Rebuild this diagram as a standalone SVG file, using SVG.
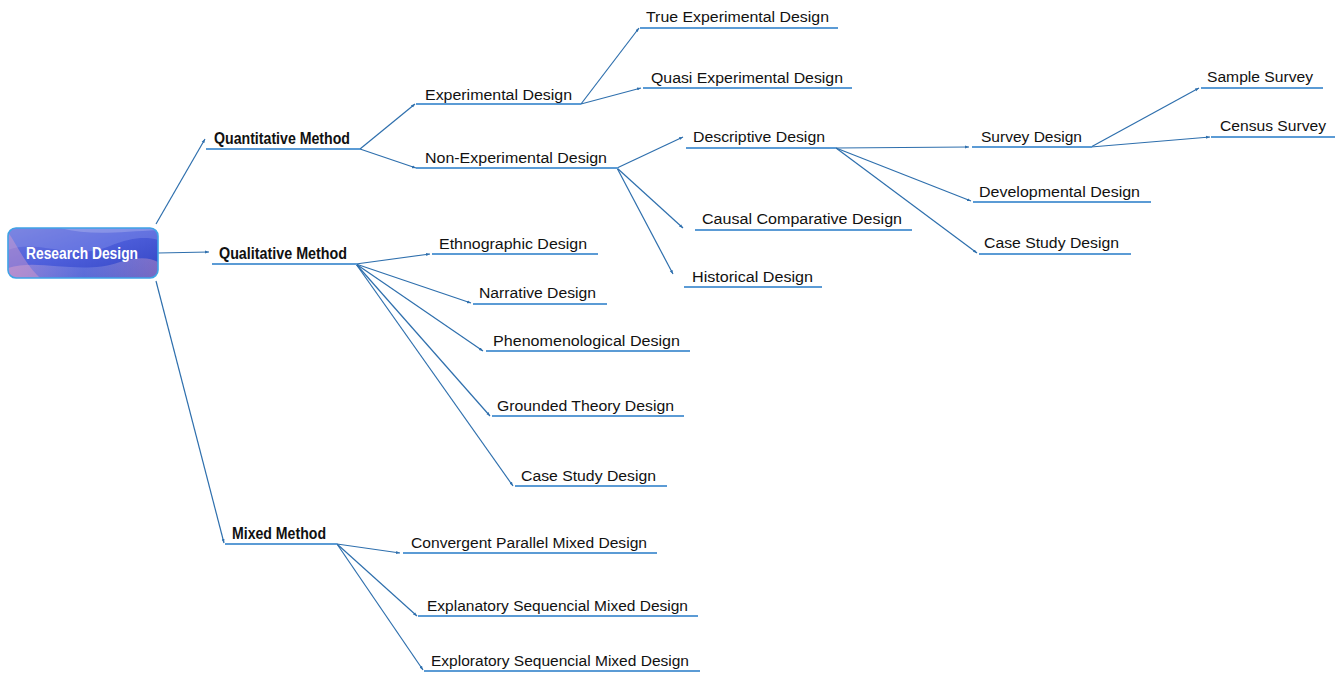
<svg xmlns="http://www.w3.org/2000/svg" width="1343" height="673" viewBox="0 0 1343 673">
  <defs>
    <style>
      .lbl { font-family: "Liberation Sans", Arial, sans-serif; font-size: 15.5px; fill: #111; }
      .lblb { font-family: "Liberation Sans", Arial, sans-serif; font-size: 16px; font-weight: bold; fill: #111; }
      .ul { stroke: #5b9bd5; stroke-width: 1.8; fill: none; }
      .edge { stroke: #2e6fad; stroke-width: 1.2; fill: none; marker-end: url(#tip); }
      .root-text { font-family: "Liberation Sans", Arial, sans-serif; font-size: 16px; font-weight: bold; fill: #ffffff; }
    </style>
    <marker id="tip" markerUnits="userSpaceOnUse" markerWidth="5" markerHeight="5" viewBox="0 0 5 5" refX="4" refY="2.5" orient="auto">
      <path d="M0,1 L4,2.5 L0,4 Z" fill="#2e6fad"/>
    </marker>
    <linearGradient id="rootFill" x1="0" y1="0" x2="1" y2="1">
      <stop offset="0" stop-color="#6f78dc"/>
      <stop offset="0.45" stop-color="#4f60dc"/>
      <stop offset="1" stop-color="#3243c2"/>
    </linearGradient>
    <linearGradient id="sheen" x1="0" y1="0" x2="1" y2="0">
      <stop offset="0" stop-color="#e9a6c9" stop-opacity="0.7"/>
      <stop offset="0.5" stop-color="#b7c6f5" stop-opacity="0.35"/>
      <stop offset="1" stop-color="#e4a0c0" stop-opacity="0.6"/>
    </linearGradient>
    <clipPath id="rootClip">
      <rect x="8" y="228" width="150" height="50" rx="8"/>
    </clipPath>
  </defs>

  <!-- connectors -->
  <g id="connectors">
    <!-- root -->
    <line class="edge" x1="156" y1="224" x2="205" y2="139"/>
    <line class="edge" x1="158" y1="253" x2="209" y2="252"/>
    <line class="edge" x1="156" y1="281" x2="224" y2="543"/>
    <!-- quantitative -->
    <line class="edge" x1="360" y1="149" x2="415" y2="104"/>
    <line class="edge" x1="360" y1="149" x2="416" y2="168"/>
    <!-- experimental -->
    <line class="edge" x1="581" y1="104" x2="639" y2="28"/>
    <line class="edge" x1="581" y1="104" x2="641" y2="88"/>
    <!-- non-experimental -->
    <line class="edge" x1="617" y1="168" x2="683" y2="137"/>
    <line class="edge" x1="617" y1="168" x2="683" y2="228"/>
    <line class="edge" x1="617" y1="168" x2="673" y2="274"/>
    <!-- descriptive -->
    <line class="edge" x1="836" y1="148" x2="969" y2="147"/>
    <line class="edge" x1="836" y1="148" x2="971" y2="201"/>
    <line class="edge" x1="836" y1="148" x2="977" y2="253"/>
    <!-- survey -->
    <line class="edge" x1="1091" y1="147" x2="1199" y2="88"/>
    <line class="edge" x1="1091" y1="147" x2="1210" y2="137"/>
    <!-- qualitative -->
    <line class="edge" x1="356" y1="264" x2="430" y2="254"/>
    <line class="edge" x1="356" y1="264" x2="471" y2="303"/>
    <line class="edge" x1="356" y1="264" x2="483" y2="351"/>
    <line class="edge" x1="356" y1="264" x2="490" y2="416"/>
    <line class="edge" x1="356" y1="264" x2="513" y2="486"/>
    <!-- mixed -->
    <line class="edge" x1="337" y1="544" x2="400" y2="553"/>
    <line class="edge" x1="337" y1="544" x2="417" y2="616"/>
    <line class="edge" x1="337" y1="544" x2="423" y2="670"/>
  </g>

  <!-- root node -->
  <g id="root">
    <rect x="8" y="228" width="150" height="50" rx="8" fill="url(#rootFill)"/>
    <g clip-path="url(#rootClip)">
      <path d="M8,250 C40,238 70,262 110,246 C130,238 145,236 158,240 L158,228 L8,228 Z" fill="#9aa6ee" opacity="0.3"/>
      <path d="M8,268 C40,258 80,276 120,262 C140,256 150,258 158,262 L158,278 L8,278 Z" fill="url(#sheen)" opacity="0.65"/>
      <path d="M8,232 C20,250 24,262 40,278 L8,278 Z" fill="#e6a3c8" opacity="0.4"/>
      <path d="M60,228 C90,236 120,232 158,230 L158,228 Z" fill="#ffffff" opacity="0.2"/>
    </g>
    <rect x="8" y="228" width="150" height="50" rx="8" fill="none" stroke="#3fa3e6" stroke-width="1.6"/>
    <text class="root-text" x="82" y="259" text-anchor="middle" textLength="112" lengthAdjust="spacingAndGlyphs">Research Design</text>
  </g>

  <!-- level 1 -->
  <g id="quantitative">
    <text class="lblb" x="214" y="144" textLength="136" lengthAdjust="spacingAndGlyphs">Quantitative Method</text>
    <line class="ul" x1="206" y1="149" x2="360" y2="149"/>
  </g>
  <g id="qualitative">
    <text class="lblb" x="219" y="259" textLength="128" lengthAdjust="spacingAndGlyphs">Qualitative Method</text>
    <line class="ul" x1="212" y1="264" x2="357" y2="264"/>
  </g>
  <g id="mixed">
    <text class="lblb" x="232" y="539" textLength="94" lengthAdjust="spacingAndGlyphs">Mixed Method</text>
    <line class="ul" x1="225" y1="544" x2="337" y2="544"/>
  </g>

  <!-- quantitative branch -->
  <g id="experimental">
    <text class="lbl" x="425" y="100" textLength="147" lengthAdjust="spacingAndGlyphs">Experimental Design</text>
    <line class="ul" x1="416" y1="104" x2="581" y2="104"/>
  </g>
  <g id="non-experimental">
    <text class="lbl" x="425" y="163" textLength="182" lengthAdjust="spacingAndGlyphs">Non-Experimental Design</text>
    <line class="ul" x1="416" y1="168" x2="618" y2="168"/>
  </g>
  <g id="true-experimental">
    <text class="lbl" x="646" y="22" textLength="183" lengthAdjust="spacingAndGlyphs">True Experimental Design</text>
    <line class="ul" x1="640" y1="28" x2="838" y2="28"/>
  </g>
  <g id="quasi-experimental">
    <text class="lbl" x="651" y="83" textLength="192" lengthAdjust="spacingAndGlyphs">Quasi Experimental Design</text>
    <line class="ul" x1="643" y1="88" x2="852" y2="88"/>
  </g>
  <g id="descriptive">
    <text class="lbl" x="693" y="142" textLength="132" lengthAdjust="spacingAndGlyphs">Descriptive Design</text>
    <line class="ul" x1="686" y1="148" x2="836" y2="148"/>
  </g>
  <g id="causal-comparative">
    <text class="lbl" x="702" y="224" textLength="200" lengthAdjust="spacingAndGlyphs">Causal Comparative Design</text>
    <line class="ul" x1="695" y1="230" x2="912" y2="230"/>
  </g>
  <g id="historical">
    <text class="lbl" x="692" y="282" textLength="121" lengthAdjust="spacingAndGlyphs">Historical Design</text>
    <line class="ul" x1="684" y1="287" x2="822" y2="287"/>
  </g>
  <g id="survey">
    <text class="lbl" x="981" y="142" textLength="101" lengthAdjust="spacingAndGlyphs">Survey Design</text>
    <line class="ul" x1="972" y1="147" x2="1092" y2="147"/>
  </g>
  <g id="developmental">
    <text class="lbl" x="979" y="197" textLength="161" lengthAdjust="spacingAndGlyphs">Developmental Design</text>
    <line class="ul" x1="973" y1="202" x2="1151" y2="202"/>
  </g>
  <g id="case-study-quant">
    <text class="lbl" x="984" y="248" textLength="135" lengthAdjust="spacingAndGlyphs">Case Study Design</text>
    <line class="ul" x1="979" y1="254" x2="1131" y2="254"/>
  </g>
  <g id="sample-survey">
    <text class="lbl" x="1207" y="82" textLength="106" lengthAdjust="spacingAndGlyphs">Sample Survey</text>
    <line class="ul" x1="1201" y1="88" x2="1323" y2="88"/>
  </g>
  <g id="census-survey">
    <text class="lbl" x="1220" y="131" textLength="106" lengthAdjust="spacingAndGlyphs">Census Survey</text>
    <line class="ul" x1="1211" y1="137" x2="1335" y2="137"/>
  </g>

  <!-- qualitative branch -->
  <g id="ethnographic">
    <text class="lbl" x="439" y="249" textLength="148" lengthAdjust="spacingAndGlyphs">Ethnographic Design</text>
    <line class="ul" x1="432" y1="254" x2="598" y2="254"/>
  </g>
  <g id="narrative">
    <text class="lbl" x="479" y="298" textLength="117" lengthAdjust="spacingAndGlyphs">Narrative Design</text>
    <line class="ul" x1="473" y1="304" x2="607" y2="304"/>
  </g>
  <g id="phenomenological">
    <text class="lbl" x="493" y="346" textLength="187" lengthAdjust="spacingAndGlyphs">Phenomenological Design</text>
    <line class="ul" x1="486" y1="351" x2="690" y2="351"/>
  </g>
  <g id="grounded-theory">
    <text class="lbl" x="497" y="411" textLength="177" lengthAdjust="spacingAndGlyphs">Grounded Theory Design</text>
    <line class="ul" x1="492" y1="416" x2="684" y2="416"/>
  </g>
  <g id="case-study-qual">
    <text class="lbl" x="521" y="481" textLength="135" lengthAdjust="spacingAndGlyphs">Case Study Design</text>
    <line class="ul" x1="515" y1="486" x2="667" y2="486"/>
  </g>

  <!-- mixed branch -->
  <g id="convergent-parallel">
    <text class="lbl" x="411" y="548" textLength="236" lengthAdjust="spacingAndGlyphs">Convergent Parallel Mixed Design</text>
    <line class="ul" x1="403" y1="553" x2="657" y2="553"/>
  </g>
  <g id="explanatory-sequencial">
    <text class="lbl" x="427" y="611" textLength="261" lengthAdjust="spacingAndGlyphs">Explanatory Sequencial Mixed Design</text>
    <line class="ul" x1="418" y1="616" x2="698" y2="616"/>
  </g>
  <g id="exploratory-sequencial">
    <text class="lbl" x="431" y="666" textLength="258" lengthAdjust="spacingAndGlyphs">Exploratory Sequencial Mixed Design</text>
    <line class="ul" x1="424" y1="671" x2="700" y2="671"/>
  </g>
</svg>
